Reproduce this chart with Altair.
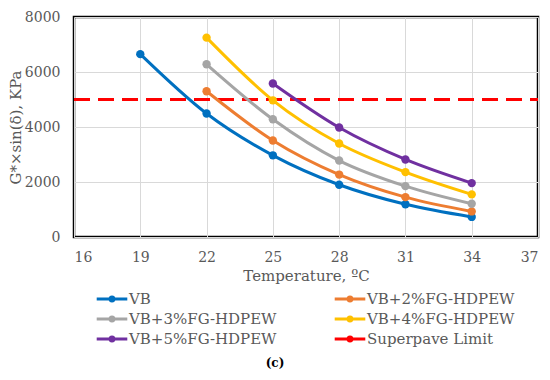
import altair as alt
import pandas as pd

# ---- data ----
series_names = ["VB", "VB+2%FG-HDPEW", "VB+3%FG-HDPEW", "VB+4%FG-HDPEW", "VB+5%FG-HDPEW"]
limit_name = "Superpave Limit"

temps_vb = [19, 22, 25, 28, 31, 34]
vals_vb = [6650, 4490, 2970, 1900, 1190, 730]

temps_2 = [22, 25, 28, 31, 34]
vals_2 = [5300, 3510, 2270, 1450, 930]

temps_3 = [22, 25, 28, 31, 34]
vals_3 = [6280, 4280, 2780, 1850, 1210]

temps_4 = [22, 25, 28, 31, 34]
vals_4 = [7250, 4970, 3400, 2360, 1550]

temps_5 = [25, 28, 31, 34]
vals_5 = [5580, 3980, 2820, 1960]

limit_x = [16, 37]
limit_y = [5000, 5000]

panel_label = ["(c)"]

colors = ["#0070C0", "#ED7D31", "#A5A5A5", "#FFC000", "#7030A0", "#FF0000"]

x_ticks = [16, 19, 22, 25, 28, 31, 34, 37]
y_ticks = [0, 1000, 2000, 3000, 4000, 5000, 6000, 7000, 8000]

rows = []
for name, ts, vs in zip(series_names,
                        [temps_vb, temps_2, temps_3, temps_4, temps_5],
                        [vals_vb, vals_2, vals_3, vals_4, vals_5]):
    for t, v in zip(ts, vs):
        rows.append({"T": t, "G": v, "series": name})
df = pd.DataFrame(rows)
df_lim = pd.DataFrame({"T": limit_x, "G": limit_y, "series": [limit_name] * 2})
df_lab = pd.DataFrame({"label": panel_label})

domain = series_names + [limit_name]
font = "DejaVu Serif"
grey = "#595959"

x_enc = alt.X("T:Q", scale=alt.Scale(domain=[16, 37], nice=False),
              axis=alt.Axis(values=x_ticks, title="Temperature, ºC", format="d",
                            labelPadding=13, titlePadding=4))
y_enc = alt.Y("G:Q", scale=alt.Scale(domain=[0, 8000], nice=False),
              axis=alt.Axis(values=y_ticks, title="G*×sin(δ), KPa", format="d",
                            labelPadding=14, titleX=-51, titleBaseline="bottom"))

sym_path = ("M-1.8,0L1.8,0M0.235,0A0.235,0.235,0,1,1,-0.235,0"
            "A0.235,0.235,0,1,1,0.235,0Z")

color_enc = alt.Color(
    "series:N",
    scale=alt.Scale(domain=domain, range=colors),
    sort=domain,
    legend=alt.Legend(
        title=None, orient="none", legendX=28, legendY=272,
        direction="horizontal", columns=2, columnPadding=51, rowPadding=2,
        symbolType=sym_path, symbolSize=289, symbolStrokeWidth=3,
        labelFont=font, labelFontSize=15, labelColor=grey, labelOffset=7,
        labelLimit=0, symbolOpacity=1,
    ),
)

lines = alt.Chart(df).mark_line(
    strokeWidth=3, interpolate="monotone",
    point=alt.OverlayMarkDef(filled=True, size=70, opacity=1),
).encode(x=x_enc, y=y_enc, color=color_enc, detail="series:N")

limit = alt.Chart(df_lim).mark_line(
    strokeWidth=3, strokeDash=[16, 8]
).encode(x="T:Q", y="G:Q", color=alt.Color("series:N", scale=alt.Scale(domain=domain, range=colors)))

label = alt.Chart(df_lab).mark_text(
    font=font, fontSize=12, fontWeight="bold", color="black", baseline="middle"
).encode(text="label:N", x=alt.value(201), y=alt.value(346))

chart = alt.layer(limit, lines, label).properties(
    width=464, height=220,
    autosize=alt.AutoSizeParams(type="none"),
    padding={"left": 66, "top": 9, "right": 4, "bottom": 135},
).configure_view(
    stroke="black", strokeWidth=2.5
).configure_axis(
    grid=True, gridColor="#d9d9d9", gridWidth=1, domain=False, ticks=False,
    labelFont=font, labelFontSize=14, labelColor=grey,
    titleFont=font, titleFontSize=15, titleFontWeight="normal", titleColor=grey,
)

chart.save("out.html", embed_options={"renderer": "svg", "actions": False})
